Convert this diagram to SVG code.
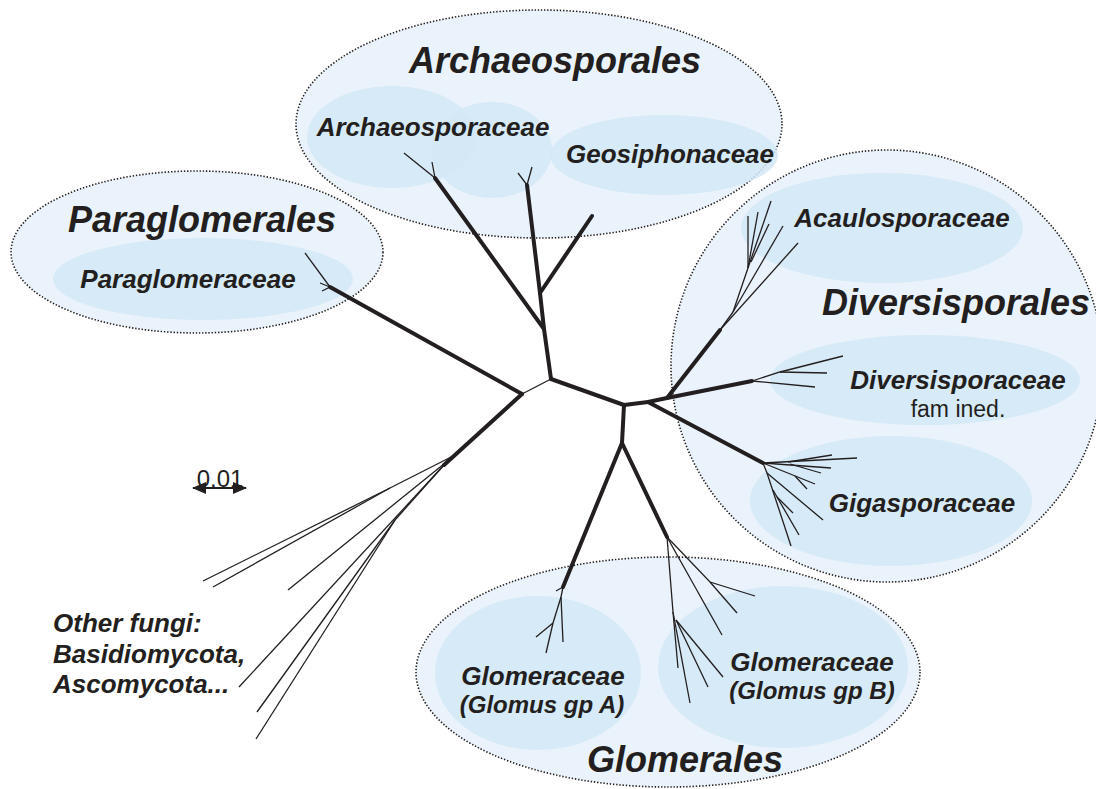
<svg xmlns="http://www.w3.org/2000/svg" width="1096" height="789" viewBox="0 0 1096 789">
<defs>
<style>
.outer{fill:#EAF3FB;stroke:#231F20;stroke-width:1.6;stroke-dasharray:1.4 1.8}
.inner{fill:#D4E7F6;fill-opacity:0.85}
.lbl{font-family:"Liberation Sans",Arial,sans-serif;font-weight:bold;font-style:italic;fill:#231F20}
.big{font-size:36px}
.fam{font-size:26px}
.reg{font-family:"Liberation Sans",Arial,sans-serif;fill:#231F20}
.thick{stroke:#231F20;stroke-width:4;fill:none;stroke-linecap:round}
.thin{stroke:#231F20;stroke-width:1.3;fill:none}
</style>
<marker id="ah" viewBox="0 0 14 12" refX="13" refY="6" markerWidth="14" markerHeight="12" orient="auto-start-reverse" markerUnits="userSpaceOnUse">
<path d="M0,0 L14,6 L0,12 z" fill="#231F20"/>
</marker>
</defs>
<rect width="1096" height="789" fill="#fff"/>

<g id="archaeosporales">
<ellipse class="outer" cx="539" cy="124" rx="243" ry="114"/>
<ellipse class="inner" cx="392" cy="137" rx="85" ry="51"/>
<ellipse class="inner" cx="492" cy="150" rx="60" ry="48"/>
<ellipse class="inner" cx="664" cy="155" rx="114" ry="40"/>
<text class="lbl big" x="555" y="73" text-anchor="middle">Archaeosporales</text>
<text class="lbl fam" x="433" y="136" text-anchor="middle">Archaeosporaceae</text>
<text class="lbl fam" x="670" y="163" text-anchor="middle">Geosiphonaceae</text>
</g>

<g id="paraglomerales">
<ellipse class="outer" cx="197" cy="252" rx="186" ry="81"/>
<ellipse class="inner" cx="203" cy="279" rx="150" ry="41"/>
<text class="lbl big" x="202" y="232" text-anchor="middle">Paraglomerales</text>
<text class="lbl fam" x="188" y="288" text-anchor="middle">Paraglomeraceae</text>
</g>

<g id="diversisporales">
<ellipse class="outer" cx="887" cy="366" rx="216" ry="216"/>
<ellipse class="inner" cx="882" cy="228" rx="141" ry="55"/>
<ellipse class="inner" cx="925" cy="380" rx="155" ry="45"/>
<ellipse class="inner" cx="891" cy="501" rx="141" ry="65"/>
<text class="lbl fam" x="902" y="227" text-anchor="middle">Acaulosporaceae</text>
<text class="lbl big" x="956" y="315" text-anchor="middle">Diversisporales</text>
<text class="lbl fam" x="958" y="389" text-anchor="middle">Diversisporaceae</text>
<text class="reg" x="958" y="417" font-size="23" text-anchor="middle">fam ined.</text>
<text class="lbl fam" x="922" y="512" text-anchor="middle">Gigasporaceae</text>
</g>

<g id="glomerales">
<ellipse class="outer" cx="668" cy="672" rx="252" ry="115"/>
<ellipse class="inner" cx="538" cy="673" rx="103" ry="77"/>
<ellipse class="inner" cx="783" cy="667" rx="125" ry="81"/>
<text class="lbl fam" x="543" y="685" text-anchor="middle">Glomeraceae</text>
<text class="lbl" x="542" y="713" font-size="24" text-anchor="middle">(Glomus gp A)</text>
<text class="lbl fam" x="812" y="671" text-anchor="middle">Glomeraceae</text>
<text class="lbl" x="812" y="699" font-size="24" text-anchor="middle">(Glomus gp B)</text>
<text class="lbl big" x="685" y="772" text-anchor="middle">Glomerales</text>
</g>

<g id="other-fungi">
<text class="lbl fam" x="53" y="632">Other fungi:</text>
<text class="lbl fam" x="53" y="663">Basidiomycota,</text>
<text class="lbl fam" x="53" y="693">Ascomycota...</text>
</g>

<g id="scale">
<text class="reg" x="220" y="487" font-size="24" text-anchor="middle">0.01</text>
<line x1="193" y1="488" x2="246" y2="488" stroke="#231F20" stroke-width="2" marker-start="url(#ah)" marker-end="url(#ah)"/>
</g>

<g id="connectors">
<!-- trunk -->
<line class="thin" x1="551" y1="379" x2="522" y2="394" stroke-width="1.5"/>
<polyline class="thick" points="522,394 330,287"/>
<polyline class="thick" points="522,394 444,465"/>
<polyline class="thick" points="551,379 544,329 540,293 527,185"/>
<polyline class="thick" points="540,293 592,216"/>
<polyline class="thick" points="544,329 435,178"/>
<polyline class="thick" points="551,379 624,405 622,443"/>
<polyline class="thick" points="624,405 648,402 667,398 752,381"/>
<polyline class="thick" points="648,402 763,463"/>
<polyline class="thick" points="667,398 720,330"/>
<polyline class="thick" points="622,443 563,587"/>
<polyline class="thick" points="622,443 667,537"/>
<!-- Paraglomeraceae -->
<line class="thin" x1="330" y1="287" x2="305" y2="253"/>
<polyline class="thin" points="320,283 330,287 322,291"/>
<!-- Archaeosporaceae / Geosiphon -->
<line class="thin" x1="435" y1="178" x2="404" y2="153"/>
<line class="thin" x1="435" y1="178" x2="432" y2="162"/>
<line class="thin" x1="527" y1="185" x2="518" y2="173"/>
<line class="thin" x1="527" y1="185" x2="532" y2="167"/>
<!-- Acaulosporaceae -->
<line class="thin" x1="720" y1="330" x2="798" y2="243"/>
<line class="thin" x1="720" y1="330" x2="733" y2="312" stroke-width="2"/>
<line class="thin" x1="733" y1="312" x2="783" y2="226"/>
<line class="thin" x1="733" y1="312" x2="748" y2="268"/>
<line class="thin" x1="748" y1="268" x2="748" y2="216"/>
<line class="thin" x1="748" y1="268" x2="758" y2="212"/>
<line class="thin" x1="748" y1="268" x2="771" y2="201"/>
<line class="thin" x1="751" y1="262" x2="769" y2="224"/>
<!-- Diversisporaceae -->
<polyline class="thin" points="752,381 780,372 843,356"/>
<line class="thin" x1="780" y1="372" x2="827" y2="373"/>
<line class="thin" x1="752" y1="381" x2="815" y2="387"/>
<!-- Gigasporaceae -->
<line class="thin" x1="763" y1="463" x2="857" y2="458"/>
<line class="thin" x1="788" y1="462" x2="832" y2="455"/>
<line class="thin" x1="763" y1="463" x2="831" y2="468"/>
<line class="thin" x1="790" y1="464" x2="821" y2="473"/>
<line class="thin" x1="763" y1="463" x2="815" y2="484"/>
<line class="thin" x1="795" y1="476" x2="807" y2="489"/>
<line class="thin" x1="763" y1="463" x2="767" y2="473"/>
<line class="thin" x1="767" y1="473" x2="823" y2="520"/>
<line class="thin" x1="767" y1="473" x2="791" y2="546"/>
<line class="thin" x1="773" y1="490" x2="799" y2="535"/>
<line class="thin" x1="777" y1="497" x2="793" y2="513"/>
<!-- Glomus A -->
<line class="thin" x1="563" y1="587" x2="556" y2="591"/>
<polyline class="thin" points="563,587 561,597 563,642"/>
<line class="thin" x1="561" y1="597" x2="553" y2="623"/>
<line class="thin" x1="553" y1="623" x2="536" y2="637"/>
<line class="thin" x1="553" y1="623" x2="546" y2="653"/>
<!-- Glomus B -->
<polyline class="thin" points="667,537 710,582 755,596"/>
<line class="thin" x1="710" y1="582" x2="737" y2="613"/>
<line class="thin" x1="667" y1="537" x2="722" y2="635"/>
<polyline class="thin" points="667,537 673,612 678,668"/>
<line class="thin" x1="673" y1="612" x2="690" y2="703"/>
<line class="thin" x1="676" y1="620" x2="708" y2="687"/>
<line class="thin" x1="676" y1="620" x2="723" y2="677"/>
<!-- other fungi -->
<polyline class="thin" points="455,455 390,488 203,581"/>
<line class="thin" x1="390" y1="488" x2="213" y2="587"/>
<line class="thin" x1="455" y1="455" x2="288" y2="590"/>
<line class="thin" x1="444" y1="465" x2="239" y2="687"/>
<polyline class="thin" points="444,465 395,520 257,712"/>
<line class="thin" x1="395" y1="520" x2="256" y2="739"/>
</g>
</svg>
